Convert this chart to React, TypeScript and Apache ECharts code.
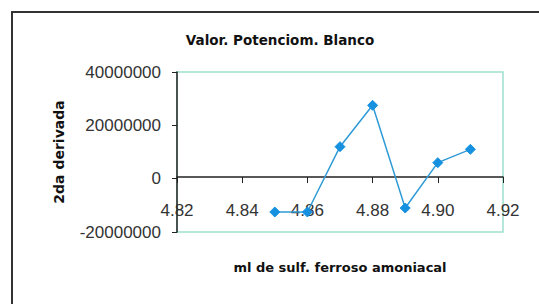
import React, { useEffect, useRef } from "react";
import * as echarts from "echarts";

const xValues = [4.85, 4.86, 4.87, 4.88, 4.89, 4.9, 4.91];
const yValues = [-12500000, -12500000, 12000000, 27500000, -11000000, 6000000, 11000000];
const titleText = "Valor. Potenciom. Blanco";
const xAxisName = "ml de sulf. ferroso amoniacal";
const yAxisName = "2da derivada";

export default function App() {
  const ref = useRef<HTMLDivElement>(null);
  useEffect(() => {
    if (!ref.current) return;
    const chart = echarts.init(ref.current, null, { renderer: "svg" });
    const data = xValues.map((x, i) => [x, yValues[i]]);
    chart.setOption({
      animation: false,
      backgroundColor: "#ffffff",
      grid: {
        left: 177,
        top: 72,
        right: 36,
        bottom: 72,
        outerBoundsMode: "none",
        containLabel: false,
        show: true,
        borderColor: "#9fe0cf",
        borderWidth: 1.5,
        backgroundColor: "transparent",
      },
      xAxis: {
        type: "value",
        position: "bottom",
        offset: -55,
        min: 4.82,
        max: 4.92,
        interval: 0.02,
        name: xAxisName,
        nameLocation: "middle",
        nameGap: 84,
        nameTextStyle: {
          fontFamily: "DejaVu Sans",
          fontWeight: "bold",
          fontSize: 13,
          color: "#111",
        },
        axisLine: { show: true, onZero: false, lineStyle: { color: "#222", width: 1.5 } },
        axisTick: { show: true, length: 6, lineStyle: { color: "#222" } },
        axisLabel: {
          fontFamily: "Liberation Sans",
          fontSize: 17,
          color: "#333",
          margin: 25,
          formatter: (v: number) => v.toFixed(2),
        },
        splitLine: { show: false },
      },
      yAxis: {
        type: "value",
        min: -20000000,
        max: 40000000,
        interval: 20000000,
        name: yAxisName,
        nameLocation: "middle",
        nameGap: 111,
        nameRotate: 90,
        nameTextStyle: {
          fontFamily: "DejaVu Sans",
          fontWeight: "bold",
          fontSize: 14,
          color: "#111",
        },
        axisLine: { show: true, onZero: false, lineStyle: { color: "#222", width: 1.5 } },
        axisTick: { show: true, length: 5, lineStyle: { color: "#222" } },
        axisLabel: {
          fontFamily: "Liberation Sans",
          fontSize: 17,
          color: "#333",
          margin: 16,
          formatter: (v: number) => String(v),
        },
        splitLine: { show: false },
      },
      graphic: [
        {
          type: "rect",
          shape: { x: 12, y: 12, width: 600, height: 400 },
          style: { fill: "none", stroke: "#333", lineWidth: 2 },
          silent: true,
        },
        {
          type: "text",
          x: 280,
          y: 40,
          style: {
            text: titleText,
            fontFamily: "DejaVu Sans",
            fontWeight: "bold",
            fontSize: 13.5,
            fill: "#111",
            align: "center",
            verticalAlign: "middle",
          },
        },
      ],
      series: [
        {
          type: "line",
          data,
          symbol: "diamond",
          symbolSize: 10,
          lineStyle: { color: "#2f9bd6", width: 1.5 },
          itemStyle: { color: "#1591e0", borderColor: "#1591e0" },
        },
      ],
    });
    return () => chart.dispose();
  }, []);
  return (
    <div
      ref={ref}
      style={{ position: "fixed", left: 0, top: 0, width: 539, height: 304 }}
    />
  );
}
